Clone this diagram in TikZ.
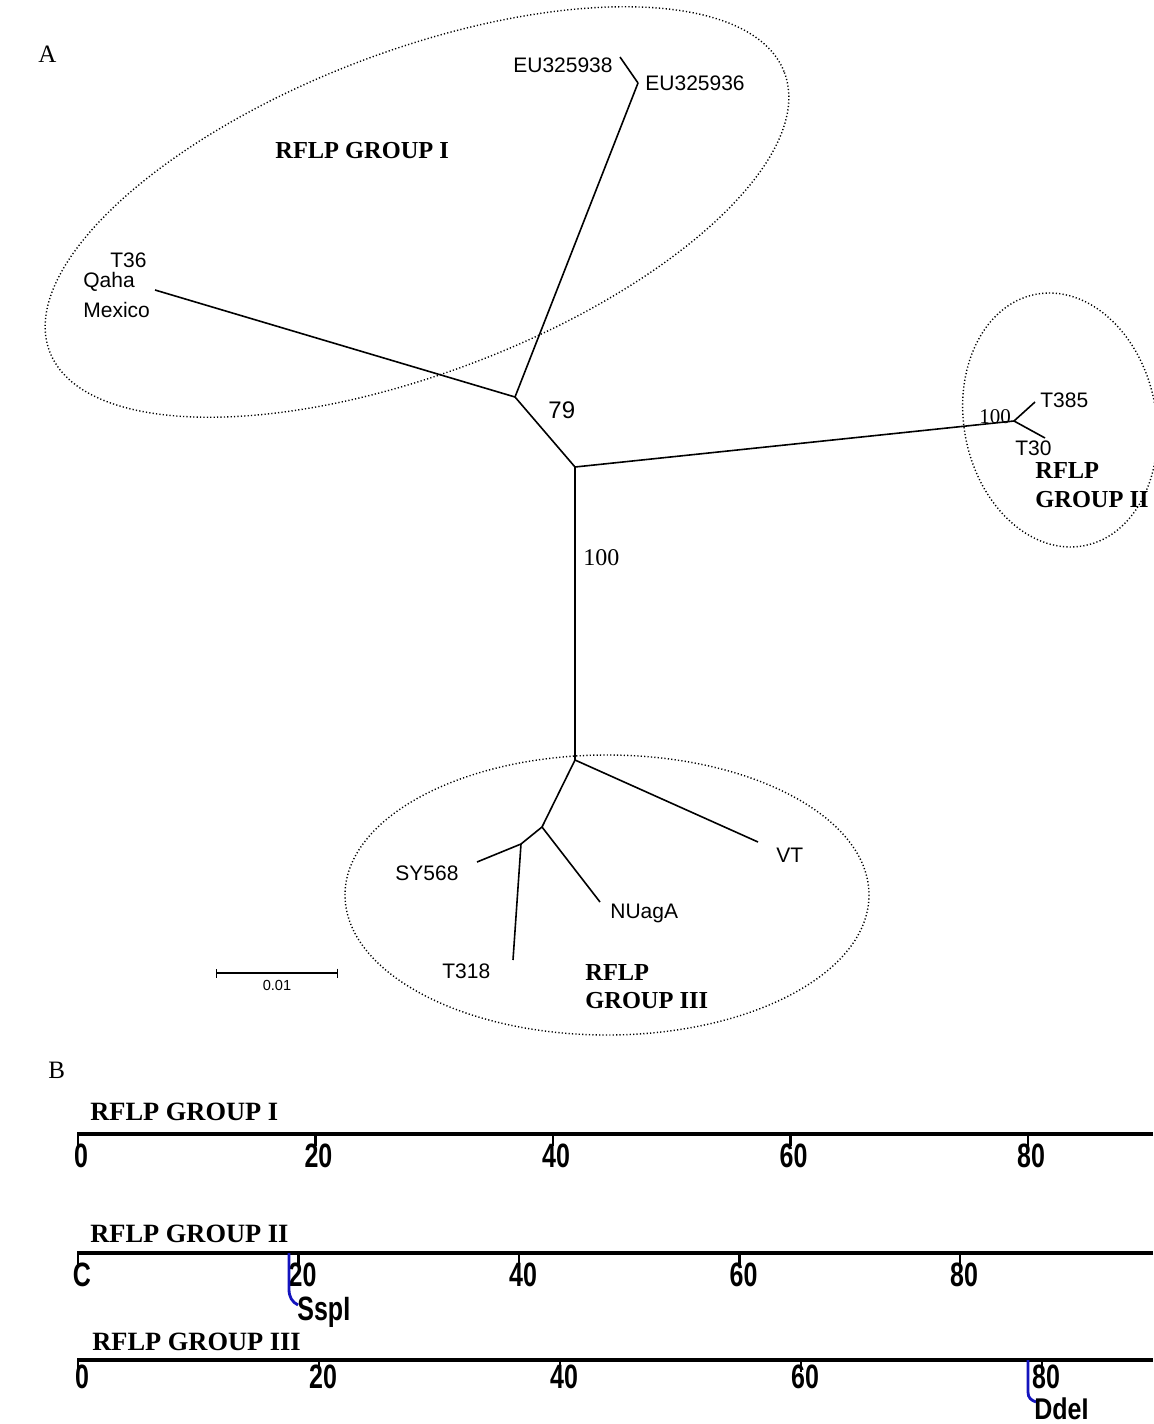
\documentclass[tikz,border=0pt]{standalone}
\usepackage{fontspec}
\setmainfont{Liberation Serif}
\setsansfont{Liberation Sans}
\usepackage{graphicx}
\usetikzlibrary{arrows.meta}
\definecolor{cutblue}{RGB}{20,20,190}
\newcommand{\rnum}[1]{\scalebox{1}[1.35]{#1}}

\begin{document}
\begin{tikzpicture}[x=0.5pt,y=-0.5pt]
      \tikzstyle{branch}=[draw,line width=0.8pt]
      \tikzstyle{groupring}=[draw,line width=0.7pt,dash pattern=on 0.6pt off 1.1pt]
      \tikzstyle{leaf}=[anchor=base west,inner sep=0pt,font=\sffamily\fontsize{10.5}{12}\selectfont]
      \tikzstyle{grouplabel}=[anchor=base west,inner sep=0pt,font=\bfseries\fontsize{12.2}{14}\selectfont]
      \tikzstyle{rowlabel}=[anchor=base west,inner sep=0pt,font=\bfseries\fontsize{13.2}{15}\selectfont]
      \tikzstyle{panel}=[anchor=base west,inner sep=0pt,font=\fontsize{12.5}{14}\selectfont]
      \tikzstyle{rulerline}=[draw,line width=2pt]
      \tikzstyle{rulertick}=[draw,line width=1.2pt]
      \tikzstyle{rnumber}=[inner sep=0pt,font=\sffamily\bfseries\fontsize{12.5}{14}\selectfont]
      \tikzstyle{cutsite}=[draw,cutblue,line width=1.4pt]
      \useasboundingbox (0,0) rectangle (1153,1424);
      \draw[groupring,rotate around={20.8:(417,212)}] (417,212) ellipse [x radius=393,y radius=161];
      \draw[groupring,rotate around={11:(1060,420)}] (1060,420) ellipse [x radius=96,y radius=128];
      \draw[groupring] (607,895) ellipse [x radius=262,y radius=140];
      \node[panel] (pA) at (38,62) {A};
      \node[panel] (pB) at (48,1078) {B};
      \node[grouplabel] (g1) at (275,158) {RFLP GROUP I};
      \node[grouplabel] (g2a) at (1035,478) {RFLP};
      \node[grouplabel] (g2b) at (1035,507) {GROUP II};
      \node[grouplabel] (g3a) at (585,980) {RFLP};
      \node[grouplabel] (g3b) at (585,1008) {GROUP III};
      \coordinate (n1) at (515,397);
      \coordinate (n2) at (575,467);
      \coordinate (n3) at (575,760);
      \coordinate (n4) at (542,827);
      \coordinate (n5) at (521,844);
      \coordinate (n6) at (1014,421);
      \coordinate (eu36) at (638,83);
      \coordinate (eu38) at (620,57);
      \coordinate (qaha) at (155,290);
      \coordinate (t385) at (1035,402);
      \coordinate (t30) at (1045,438);
      \coordinate (vt) at (758,842);
      \coordinate (nuaga) at (600,902);
      \coordinate (sy568) at (477,862);
      \coordinate (t318) at (513,960);
      \path[branch] (n1) -- (eu36);
      \path[branch] (eu36) -- (eu38);
      \path[branch] (n1) -- (qaha);
      \path[branch] (n1) -- (n2);
      \path[branch] (n2) -- (n6);
      \path[branch] (n6) -- (t385);
      \path[branch] (n6) -- (t30);
      \path[branch] (n2) -- (n3);
      \path[branch] (n3) -- (vt);
      \path[branch] (n3) -- (n4);
      \path[branch] (n4) -- (nuaga);
      \path[branch] (n4) -- (n5);
      \path[branch] (n5) -- (sy568);
      \path[branch] (n5) -- (t318);
      \node[leaf,anchor=base east] (leu38) at (613,72) {EU325938};
      \node[leaf] (leu36) at (645,90) {EU325936};
      \node[leaf] (lt36) at (110,267) {T36};
      \node[leaf] (lqaha) at (83,287) {Qaha};
      \node[leaf] (lmex) at (83,317) {Mexico};
      \node[leaf] (lt385) at (1040,407) {T385};
      \node[leaf] (lt30) at (1015,455) {T30};
      \node[leaf] (lvt) at (776,862) {VT};
      \node[leaf] (lnuaga) at (610,918) {NUagA};
      \node[leaf] (lsy) at (395,880) {SY568};
      \node[leaf] (lt318) at (442,978) {T318};
      \node[leaf,font=\sffamily\fontsize{12}{14}\selectfont] (b79) at (548,418) {79};
      \node[panel,font=\fontsize{12}{14}\selectfont] (b100a) at (583,565) {100};
      \node[panel,font=\fontsize{10.5}{12}\selectfont] (b100b) at (979,423) {100};
      \coordinate (sb0) at (216,973);
      \coordinate (sb1) at (338,973);
      \draw[line width=0.7pt,{Bar[width=4.5pt]}-{Bar[width=4.5pt]}] (sb0) -- (sb1);
      \node[leaf,anchor=base,font=\sffamily\fontsize{7.3}{9}\selectfont] (sblab) at (277,990) {0.01};
      \node[rowlabel] (r1) at (90,1120) {RFLP GROUP I};
      \node[rowlabel] (r2) at (90,1242) {RFLP GROUP II};
      \node[rowlabel] (r3) at (92,1350) {RFLP GROUP III};
      \coordinate (r1s) at (77,1134);
      \coordinate (r1e) at (1153,1134);
      \coordinate (r2s) at (77,1253);
      \coordinate (r2e) at (1153,1253);
      \coordinate (r3s) at (77,1360);
      \coordinate (r3e) at (1153,1360);
      \path[rulerline] (r1s) -- (r1e);
      \path[rulerline] (r2s) -- (r2e);
      \path[rulerline] (r3s) -- (r3e);
      \foreach \k/\lab in {0/0,1/20,2/40,3/60,4/80}{
        \coordinate (ta\k) at (78+237.5*\k,1134);
        \path[rulertick] (ta\k) -- ++(0,12);
        \node[rnumber] (na\k) at (81+237.5*\k,1156) {\rnum{\lab}};
      }
      \foreach \k/\lab in {0/C,1/20,2/40,3/60,4/80}{
        \coordinate (tb\k) at (78+220.5*\k,1253);
        \path[rulertick] (tb\k) -- ++(0,12);
        \node[rnumber] (nb\k) at (82+220.5*\k,1275) {\rnum{\lab}};
      }
      \foreach \k/\lab in {0/0,1/20,2/40,3/60,4/80}{
        \coordinate (tc\k) at (78+241*\k,1360);
        \path[rulertick] (tc\k) -- ++(0,12);
        \node[rnumber] (nc\k) at (82+241*\k,1377) {\rnum{\lab}};
      }
      \coordinate (ssp0) at (289,1253);
      \coordinate (ssp1) at (289,1289);
      \coordinate (ssp2) at (298,1305);
      \path[cutsite] (ssp0) -- (ssp1) .. controls (289,1297) and (292,1302) .. (ssp2);
      \node[rnumber,anchor=base west] (sspi) at (297,1320) {\rnum{SspI}};
      \coordinate (dde0) at (1028,1360);
      \coordinate (dde1) at (1028,1392);
      \coordinate (dde2) at (1036,1402);
      \path[cutsite] (dde0) -- (dde1) .. controls (1028,1398) and (1031,1400) .. (dde2);
      \node[rnumber,anchor=base west] (ddei) at (1034,1419) {\scalebox{1}[1.2]{DdeI}};
\end{tikzpicture}
\end{document}
